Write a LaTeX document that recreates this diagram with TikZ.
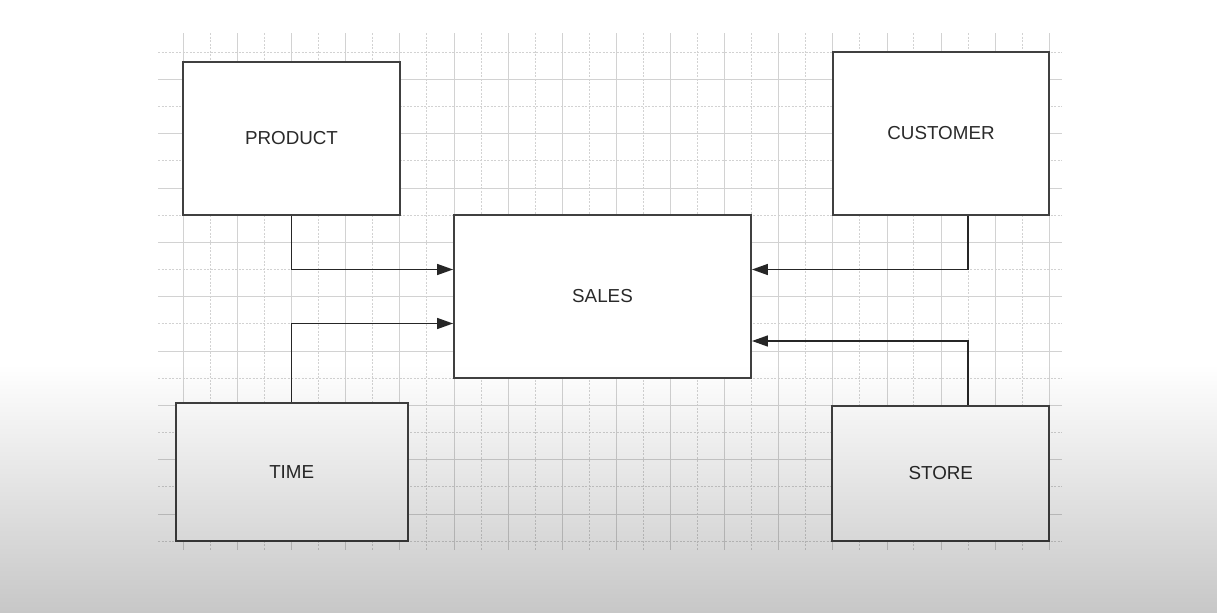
\documentclass[tikz,border=0pt]{standalone}
\usepackage{fontspec}
\setmainfont{Liberation Sans}
\usetikzlibrary{positioning, arrows.meta, fadings}

\definecolor{boxline}{HTML}{404040}
\definecolor{labeltext}{HTML}{2A2A2A}
\definecolor{gridline}{HTML}{D2D2D2}

\tikzfading[name=fade down, top color=transparent!100, bottom color=transparent!78]

\begin{document}
\begin{tikzpicture}[x=1pt, y=-1pt, node distance=100pt, on grid,
    >={Triangle[length=16pt, width=11pt]},
    table/.style={draw=boxline, line width=1.9pt, fill=white, inner sep=0pt,
                  font=\fontsize{18.8}{20}\selectfont, text=labeltext},
    link/.style={->, line width=1.5pt, black!85},
    gridsolid/.style={gridline, line width=0.7pt},
    griddash/.style={gridline, line width=0.9pt, dash pattern=on 2pt off 1.5pt}]
    \useasboundingbox (0,0) rectangle (1220,613);
    \fill[white] (0,0) rectangle (1220,613);

    % Grid
    \foreach \j in {0,...,18} {
        \pgfmathsetmacro{\gy}{52.3+27.15*\j}
        \ifodd\j
            \draw[gridsolid] (158,\gy) -- (1062,\gy);
        \else
            \draw[griddash] (158,\gy) -- (1062,\gy);
        \fi
    }
    \foreach \k in {0,...,32} {
        \pgfmathsetmacro{\gx}{183.3+27.06*\k}
        \ifodd\k
            \draw[griddash] (\gx,33) -- (\gx,550);
        \else
            \draw[gridsolid] (\gx,33) -- (\gx,550);
        \fi
    }

    % Tables
    \node[table, minimum width=297pt, minimum height=163pt] (sales) at (602.5,296.5) {SALES};
    \node[table, minimum width=217pt, minimum height=153pt]
        (product) [above left=158pt and 311pt of sales] {PRODUCT};
    \node[table, minimum width=216pt, minimum height=163pt]
        (customer) [above right=163pt and 338.5pt of sales] {CUSTOMER};
    \node[table, minimum width=232pt, minimum height=138pt]
        (time) [below left=175.5pt and 310.8pt of sales] {TIME};
    \node[table, minimum width=217pt, minimum height=135.5pt]
        (store) [below right=176.8pt and 338.3pt of sales] {STORE};

    % Links
    \draw[link] (product.south) |- ([yshift=27pt]sales.west);
    \draw[link] (time.north) |- ([yshift=-27pt]sales.west);
    \draw[link] ([xshift=27pt]customer.south) |- ([yshift=27pt]sales.east);
    \draw[link] ([xshift=27pt]store.north) |- ([yshift=-44.5pt]sales.east);

    % Shade
    \fill[black, path fading=fade down] (0,365) rectangle (1220,613);
\end{tikzpicture}
\end{document}
